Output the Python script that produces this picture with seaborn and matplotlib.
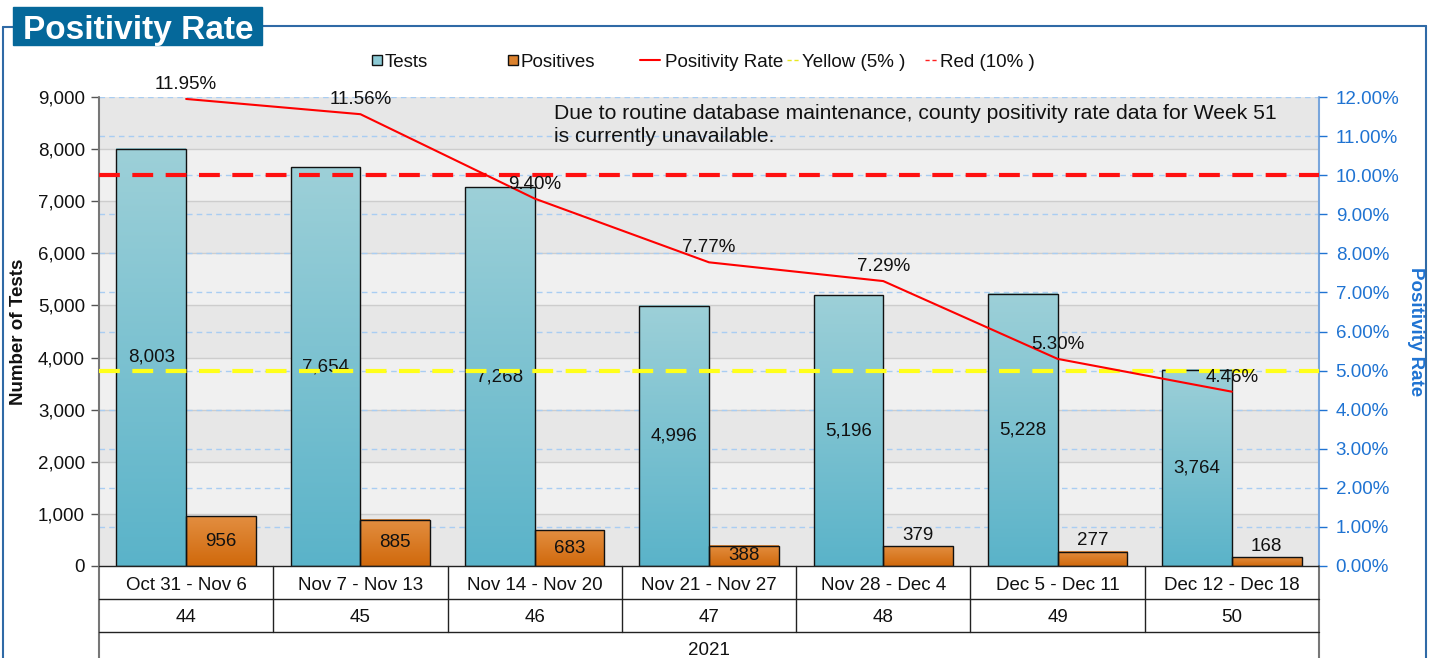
import numpy as np
import pandas as pd
import matplotlib
matplotlib.use("Agg")
import matplotlib.pyplot as plt
import seaborn as sns
from matplotlib.colors import LinearSegmentedColormap
from matplotlib.patches import Rectangle
from matplotlib.lines import Line2D
from matplotlib.ticker import FuncFormatter, MultipleLocator

# chart data
weeks = ["Oct 31 - Nov 6", "Nov 7 - Nov 13", "Nov 14 - Nov 20", "Nov 21 - Nov 27",
         "Nov 28 - Dec 4", "Dec 5 - Dec 11", "Dec 12 - Dec 18"]
week_numbers = ["44", "45", "46", "47", "48", "49", "50"]
year_label = "2021"
tests = [8003, 7654, 7268, 4996, 5196, 5228, 3764]
positives = [956, 885, 683, 388, 379, 277, 168]
rates = [11.95, 11.56, 9.40, 7.77, 7.29, 5.30, 4.46]
yellow_threshold = 5
red_threshold = 10
note = ("Due to routine database maintenance, county positivity rate data for Week 51\n"
        "is currently unavailable.")

W, H = 1433, 658
FS = 13.5
sns.set_theme(style="white")
plt.rcParams["font.family"] = ["Liberation Sans", "DejaVu Sans"]

fig = plt.figure(figsize=(W / 100, H / 100), dpi=100)


def fx(px):
    return px / W


def fy(py):
    return 1 - py / H


ax = fig.add_axes([fx(99), fy(566), fx(1319) - fx(99), fy(97) - fy(566)])
ax2 = ax.twinx()

df = pd.DataFrame({
    "week": weeks * 2,
    "series": ["Tests"] * len(weeks) + ["Positives"] * len(weeks),
    "value": tests + positives,
})
sns.barplot(data=df, x="week", y="value", hue="series", order=weeks,
            hue_order=["Tests", "Positives"], palette=["#74bccc", "#d97a22"],
            width=0.8, edgecolor="#111111", linewidth=1, legend=False, ax=ax)

ymax = 9000
ax.set_xlim(-0.5, len(weeks) - 0.5)
ax.set_ylim(0, ymax)

# alternating bands + grid
for k in range(0, ymax, 1000):
    ax.axhspan(k, k + 1000, color="#e7e7e7" if (k // 1000) % 2 == 0 else "#f0f0f0",
               zorder=0, lw=0)
    if k > 0:
        ax.axhline(k, color="#cdcdcd", lw=1, zorder=0.5)
rmax = 12
for r in range(1, rmax + 1):
    ax.axhline(r * ymax / rmax, color="#a9cdf2", lw=1, ls=(0, (4, 3)), zorder=0.6)

# gradient fill for bars
cmaps = [LinearSegmentedColormap.from_list("t", ["#5ab3c9", "#9dd0d8"]),
         LinearSegmentedColormap.from_list("p", ["#d0690c", "#e38e40"])]
grad = np.linspace(0, 1, 256).reshape(-1, 1)
for cont, cm in zip(ax.containers, cmaps):
    for bar in cont:
        x0, y0 = bar.get_x(), bar.get_y()
        x1, y1 = x0 + bar.get_width(), y0 + bar.get_height()
        ax.imshow(grad, extent=[x0, x1, y0, y1], origin="lower", aspect="auto",
                  cmap=cm, zorder=2)
        bar.set_facecolor("none")
        bar.set_zorder(3)
ax.set_xlim(-0.5, len(weeks) - 0.5)
ax.set_ylim(0, ymax)
ax.set_aspect("auto")

# value labels
for cont, vals in zip(ax.containers, [tests, positives]):
    for bar, v in zip(cont, vals):
        cx = bar.get_x() + bar.get_width() / 2
        if v < 385:
            ax.text(cx, v + 50, f"{v:,}", ha="center", va="bottom", fontsize=FS,
                    color="#111111", zorder=6)
        else:
            ax.text(cx, v / 2, f"{v:,}", ha="center", va="center", fontsize=FS,
                    color="#111111", zorder=6)

# rate line on secondary axis
xs = np.arange(len(weeks))
sns.lineplot(x=xs, y=rates, ax=ax2, color="red", lw=1.5, zorder=5)
ax2.axhline(red_threshold, color="#ff1010", lw=3, ls=(0, (5, 3)), zorder=4)
ax2.axhline(yellow_threshold, color="#ffff1a", lw=3, ls=(0, (5, 3)), zorder=4)
for x, r in zip(xs, rates):
    ax2.text(x, r + 0.15, f"{r:.2f}%", ha="center", va="bottom", fontsize=FS,
             color="#111111", zorder=6)
ax2.set_ylim(0, rmax)
ax2.set_xlim(-0.5, len(weeks) - 0.5)
ax2.yaxis.set_major_locator(MultipleLocator(1))
ax2.yaxis.set_major_formatter(FuncFormatter(lambda v, p: f"{v:.2f}%"))
ax2.tick_params(axis="y", colors="#1f73d2", labelsize=FS, length=6, width=1,
                direction="out", pad=6, right=True)
ax2.set_ylabel("Positivity Rate", rotation=270, labelpad=18, fontsize=FS,
               fontweight="bold", color="#1f73d2")
ax2.set_xlabel("")

ax.yaxis.set_major_locator(MultipleLocator(1000))
ax.yaxis.set_major_formatter(FuncFormatter(lambda v, p: f"{int(v):,}"))
ax.tick_params(axis="y", colors="#555555", labelcolor="#111111", labelsize=FS,
               length=6, width=1, direction="out", pad=4, left=True)
ax.tick_params(axis="x", length=0, labelbottom=False)
ax.set_xlabel("")
ax.set_ylabel("Number of Tests", fontsize=FS, fontweight="bold", color="#111111",
              labelpad=8)

for a in (ax, ax2):
    for s in a.spines.values():
        s.set_visible(False)

# spines extended down through the category table
bot = -(H - 566) / 469
ax.plot([0, 0], [bot, 1], transform=ax.transAxes, color="#777777", lw=1.5,
        clip_on=False, zorder=7)
ax.plot([1, 1], [0, 1], transform=ax.transAxes, color="#79a6dc", lw=1.5,
        clip_on=False, zorder=7)
ax.plot([1, 1], [bot, 0], transform=ax.transAxes, color="#777777", lw=1.5,
        clip_on=False, zorder=7)

# category table under the axis
row = 33 / 469
nudge = 2.5 / 469
tr = ax.get_xaxis_transform()
for yy in [0, -row, -2 * row]:
    ax.plot([-0.5, len(weeks) - 0.5], [yy, yy], transform=tr, color="#222222",
            lw=1, clip_on=False, zorder=7)
for i in range(1, len(weeks)):
    ax.plot([i - 0.5, i - 0.5], [-2 * row, 0], transform=tr, color="#222222",
            lw=1, clip_on=False, zorder=7)
for i, (w, n) in enumerate(zip(weeks, week_numbers)):
    ax.text(i, -row / 2 - nudge, w, transform=tr, ha="center", va="center",
            fontsize=FS, color="#111111")
    ax.text(i, -1.5 * row - nudge, n, transform=tr, ha="center", va="center",
            fontsize=FS, color="#111111")
ax.text((len(weeks) - 1) / 2, -2 * row - 16 / 469 - nudge, year_label, transform=tr,
        ha="center", va="center", fontsize=FS, color="#111111")

# note
ax.text((554 - 99) / 1220, (566 - 104) / 469, note, transform=ax.transAxes,
        ha="left", va="top", fontsize=15.2, color="#111111", linespacing=1.3,
        zorder=6)

# outer frame and title box
frame = "#2f6aa6"
fig.add_artist(Line2D([fx(3), fx(3)], [fy(27), fy(H)], color=frame, lw=1.5))
fig.add_artist(Line2D([fx(3), fx(13)], [fy(27), fy(27)], color=frame, lw=1.5))
fig.add_artist(Line2D([fx(262), fx(1426)], [fy(26), fy(26)], color=frame, lw=1.5))
fig.add_artist(Line2D([fx(1426), fx(1426)], [fy(26), fy(H)], color=frame, lw=1.5))
fig.add_artist(Rectangle((fx(13), fy(45)), fx(262) - fx(13), fy(7) - fy(45),
                         transform=fig.transFigure, color="#05689a", zorder=5))
fig.text(fx(138), fy(30), "Positivity Rate", ha="center", va="center",
         fontsize=24, fontweight="bold", color="white", zorder=6)

# legend
ly = fy(60)
legend_items = [
    ("box", 372, "#8ccad5", "Tests"),
    ("box", 508, "#dc822e", "Positives"),
    ("line", 640, "red", "Positivity Rate"),
    ("dash", 787, "#e8e820", "Yellow (5% )"),
    ("dash", 925, "#ff2020", "Red (10% )"),
]
for kind, x, c, lab in legend_items:
    if kind == "box":
        fig.add_artist(Rectangle((fx(x), ly - 5 / H), 10 / W, 10 / H,
                                 transform=fig.transFigure, facecolor=c,
                                 edgecolor="#111111", lw=1))
        tx = x + 13
    elif kind == "line":
        fig.add_artist(Line2D([fx(x), fx(x + 20)], [ly, ly], color=c, lw=1.5))
        tx = x + 25
    else:
        fig.add_artist(Line2D([fx(x), fx(x + 12)], [ly, ly], color=c, lw=1,
                              ls=(0, (3, 2))))
        tx = x + 15
    fig.text(fx(tx), ly - 2.5 / H, lab, ha="left", va="center", fontsize=FS,
             color="#111111")

fig.savefig("out.png", dpi=100)
